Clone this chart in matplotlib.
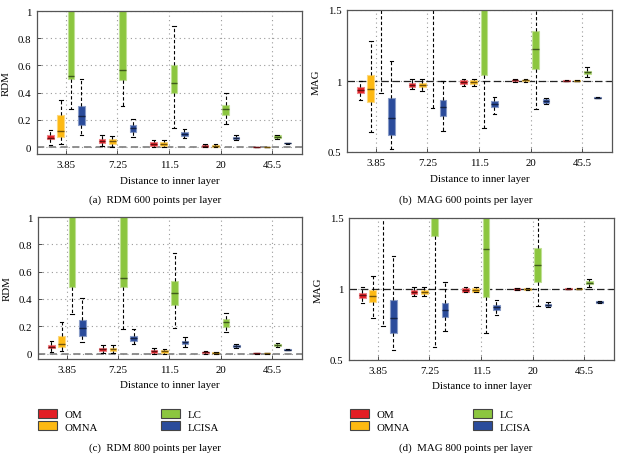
import matplotlib
matplotlib.use("Agg")
import matplotlib.pyplot as plt
from matplotlib.patches import Patch
from matplotlib.colors import to_rgb
import numpy as np

plt.rcParams['font.family'] = ['Liberation Serif', 'DejaVu Serif']

groups = ["3.85", "7.25", "11.5", "20", "45.5"]
methods = ["OM", "OMNA", "LC", "LCISA"]
colors = ["#E31E24", "#FDB913", "#8CC63F", "#2B4C9B"]

# ---- (a) RDM 600 points per layer : rows = methods, cols = groups
rdm600_whislo = [[0.015, 0.007, 0.0, 0.0, 0.0],
                 [0.025, 0.005, 0.0, 0.0, 0.0],
                 [0.28, 0.30, 0.14, 0.17, 0.059],
                 [0.093, 0.076, 0.069, 0.052, 0.026]]
rdm600_q1 = [[0.057, 0.032, 0.012, 0.005, 0.001],
             [0.076, 0.027, 0.010, 0.003, 0.001],
             [0.50, 0.496, 0.397, 0.235, 0.066],
             [0.16, 0.113, 0.081, 0.060, 0.028]]
rdm600_med = [[0.071, 0.044, 0.027, 0.012, 0.002],
              [0.12, 0.045, 0.025, 0.009, 0.002],
              [0.526, 0.565, 0.47, 0.278, 0.075],
              [0.23, 0.14, 0.096, 0.066, 0.030]]
rdm600_q3 = [[0.086, 0.059, 0.039, 0.018, 0.003],
             [0.238, 0.059, 0.040, 0.014, 0.003],
             [1.3, 1.4, 0.60, 0.31, 0.086],
             [0.302, 0.16, 0.113, 0.072, 0.032]]
rdm600_whishi = [[0.125, 0.086, 0.052, 0.022, 0.005],
                 [0.35, 0.085, 0.052, 0.020, 0.005],
                 [2.0, 2.2, 0.89, 0.40, 0.091],
                 [0.504, 0.21, 0.135, 0.086, 0.034]]

# ---- (b) MAG 600 points per layer
mag600_whislo = [[0.869, 0.944, 0.967, 0.995, 0.998],
                 [0.638, 0.932, 0.967, 0.995, 0.998],
                 [0.913, 0.81, 0.669, 0.803, 1.026],
                 [0.521, 0.65, 0.768, 0.838, 0.878]]
mag600_q1 = [[0.913, 0.96, 0.977, 1.0, 1.0],
             [0.85, 0.958, 0.977, 1.0, 1.0],
             [1.6, 1.7, 1.042, 1.087, 1.049],
             [0.62, 0.756, 0.815, 0.845, 0.880]]
mag600_med = [[0.939, 0.972, 0.99, 1.005, 1.002],
              [0.944, 0.972, 0.99, 1.005, 1.002],
              [1.9, 2.0, 1.6, 1.225, 1.061],
              [0.737, 0.814, 0.838, 0.859, 0.883]]
mag600_q3 = [[0.96, 0.986, 1.005, 1.01, 1.005],
             [1.042, 0.986, 1.005, 1.01, 1.005],
             [2.2, 2.3, 1.8, 1.35, 1.073],
             [0.88, 0.866, 0.857, 0.876, 0.885]]
mag600_whishi = [[1.0, 1.014, 1.014, 1.014, 1.007],
                 [1.284, 1.014, 1.014, 1.014, 1.007],
                 [2.6, 2.7, 2.1, 1.6, 1.096],
                 [1.143, 1.002, 0.89, 0.883, 0.887]]

# ---- (c) RDM 800 points per layer
rdm800_whislo = [[0.01, 0.005, 0.0, 0.0, 0.0],
                 [0.017, 0.005, 0.0, 0.0, 0.0],
                 [0.286, 0.181, 0.188, 0.157, 0.051],
                 [0.083, 0.071, 0.051, 0.042, 0.024]]
rdm800_q1 = [[0.037, 0.02, 0.007, 0.003, 0.001],
             [0.049, 0.02, 0.007, 0.002, 0.001],
             [0.489, 0.484, 0.352, 0.198, 0.056],
             [0.132, 0.09, 0.068, 0.046, 0.026]]
rdm800_med = [[0.051, 0.032, 0.017, 0.008, 0.002],
              [0.068, 0.030, 0.015, 0.006, 0.002],
              [1.2, 0.553, 0.443, 0.228, 0.062],
              [0.19, 0.115, 0.083, 0.056, 0.028]]
rdm800_q3 = [[0.066, 0.042, 0.027, 0.013, 0.003],
             [0.127, 0.042, 0.025, 0.010, 0.003],
             [1.4, 1.3, 0.533, 0.254, 0.068],
             [0.247, 0.132, 0.095, 0.066, 0.030]]
rdm800_whishi = [[0.09, 0.066, 0.039, 0.017, 0.005],
                 [0.23, 0.066, 0.036, 0.014, 0.005],
                 [1.8, 1.7, 0.736, 0.30, 0.076],
                 [0.406, 0.181, 0.12, 0.071, 0.031]]

# ---- (d) MAG 800 points per layer
mag800_whislo = [[0.899, 0.95, 0.977, 0.995, 0.998],
                 [0.796, 0.95, 0.977, 0.995, 0.998],
                 [0.737, 0.589, 0.688, 0.883, 1.012],
                 [0.57, 0.702, 0.815, 0.876, 0.902]]
mag800_q1 = [[0.939, 0.967, 0.981, 0.995, 0.999],
             [0.906, 0.967, 0.981, 0.995, 0.999],
             [1.6, 1.376, 0.946, 1.047, 1.035],
             [0.692, 0.805, 0.852, 0.88, 0.904]]
mag800_med = [[0.955, 0.981, 0.993, 1.0, 1.002],
              [0.948, 0.981, 0.993, 1.0, 1.002],
              [1.9, 1.6, 1.284, 1.169, 1.045],
              [0.796, 0.852, 0.871, 0.889, 0.908]]
mag800_q3 = [[0.972, 0.995, 1.007, 1.005, 1.004],
             [0.995, 0.995, 1.007, 1.005, 1.004],
             [2.1, 1.8, 1.6, 1.286, 1.056],
             [0.92, 0.904, 0.89, 0.897, 0.913]]
mag800_whishi = [[1.012, 1.012, 1.016, 1.01, 1.006],
                 [1.089, 1.012, 1.016, 1.01, 1.006],
                 [2.4, 2.1, 1.8, 1.6, 1.068],
                 [1.23, 1.047, 0.923, 0.906, 0.915]]

W, H = 623, 456
fig = plt.figure(figsize=(W / 100, H / 100), dpi=100)


def add_ax(left, right, top, bottom):
    return fig.add_axes([left / W, 1 - bottom / H, (right - left) / W, (bottom - top) / H])


def lighten(c, f=0.45):
    r = np.array(to_rgb(c))
    return tuple(r + (1 - r) * f)


def darken(c, f=0.55):
    r = np.array(to_rgb(c))
    return tuple(r * (1 - f))


offsets = [-0.3, -0.1, 0.1, 0.3]
FS = 7.8


def panel(ax, wl, q1, med, q3, wh, ylabel, ylim, yticks, yticklabels, ref, refstyle):
    ax.set_xlim(0.44, 5.58)
    ax.set_ylim(*ylim)
    ax.set_axisbelow(True)
    ax.grid(True, linestyle=(0, (1, 3)), color="#9a9a9a", linewidth=0.8)
    ref_color, ref_dash, ref_lw = refstyle
    ax.axhline(ref, color=ref_color, linestyle=(0, ref_dash), linewidth=ref_lw, zorder=1)
    for m in range(4):
        stats = []
        for g in range(5):
            stats.append(dict(whislo=wl[m][g], q1=q1[m][g], med=med[m][g],
                              q3=q3[m][g], whishi=wh[m][g], fliers=[]))
        pos = [g + 1 + offsets[m] for g in range(5)]
        ax.bxp(stats, positions=pos, widths=0.13, patch_artist=True,
               showfliers=False, manage_ticks=False, capwidths=0.07,
               boxprops=dict(facecolor=colors[m], edgecolor=lighten(colors[m]), linewidth=0.8),
               medianprops=dict(color=darken(colors[m]), linewidth=1.0),
               whiskerprops=dict(color="black", linestyle=(0, (3, 2)), linewidth=0.8),
               capprops=dict(color="black", linewidth=0.8), zorder=2)
    ax.set_xticks(range(1, 6))
    ax.set_xticklabels(groups, fontsize=FS)
    ax.set_yticks(yticks)
    ax.set_yticklabels(yticklabels, fontsize=FS)
    ax.set_ylabel(ylabel, fontsize=FS)
    ax.yaxis.set_label_coords(-0.10, 0.5)
    ax.set_xlabel("Distance to inner layer", fontsize=FS, labelpad=5)
    ax.tick_params(direction="in", length=3, width=0.6, colors="#333333",
                   labelcolor="black", pad=4)
    for s in ax.spines.values():
        s.set_color("#555555")
        s.set_linewidth(0.9)


rdm_ticks = [0, 0.2, 0.4, 0.6, 0.8, 1.0]
rdm_labels = ["0", "0.2", "0.4", "0.6", "0.8", "1"]
mag_ticks = [0.5, 1.0, 1.5]
mag_labels = ["0.5", "1", "1.5"]
rdm_ref = ("#888888", (4, 2.5), 1.3)
mag_ref = ("#222222", (6, 3), 0.9)

ax_a = add_ax(37, 302, 12, 155)
panel(ax_a, rdm600_whislo, rdm600_q1, rdm600_med, rdm600_q3, rdm600_whishi,
      "RDM", (-0.05, 1.0), rdm_ticks, rdm_labels, 0.0, rdm_ref)
ax_b = add_ax(347, 612, 11, 153)
panel(ax_b, mag600_whislo, mag600_q1, mag600_med, mag600_q3, mag600_whishi,
      "MAG", (0.5, 1.5), mag_ticks, mag_labels, 1.0, mag_ref)
ax_c = add_ax(38, 302, 218, 360)
panel(ax_c, rdm800_whislo, rdm800_q1, rdm800_med, rdm800_q3, rdm800_whishi,
      "RDM", (-0.04, 1.0), rdm_ticks, rdm_labels, 0.0, rdm_ref)
ax_d = add_ax(349, 614, 219, 361)
panel(ax_d, mag800_whislo, mag800_q1, mag800_med, mag800_q3, mag800_whishi,
      "MAG", (0.5, 1.5), mag_ticks, mag_labels, 1.0, mag_ref)

captions = [("(a)  RDM 600 points per layer", 155, 200),
            ("(b)  MAG 600 points per layer", 466, 200),
            ("(c)  RDM 800 points per layer", 155, 448),
            ("(d)  MAG 800 points per layer", 466, 448)]
for txt, x, y in captions:
    fig.text(x / W, 1 - y / H, txt, fontsize=FS, ha="center", va="center")

handles = [Patch(facecolor=c, edgecolor="#444444", linewidth=0.8, label=m)
           for m, c in zip(methods, colors)]
for lx in (30, 342):
    fig.legend(handles=handles, ncol=2, loc="upper left",
               bbox_to_anchor=(lx / W, 1 - 402 / H), frameon=False,
               fontsize=FS, handlelength=1.8, handleheight=0.95,
               handletextpad=0.7, columnspacing=5.8, labelspacing=0.2,
               borderpad=0.2)

fig.savefig("out.png", dpi=100)
